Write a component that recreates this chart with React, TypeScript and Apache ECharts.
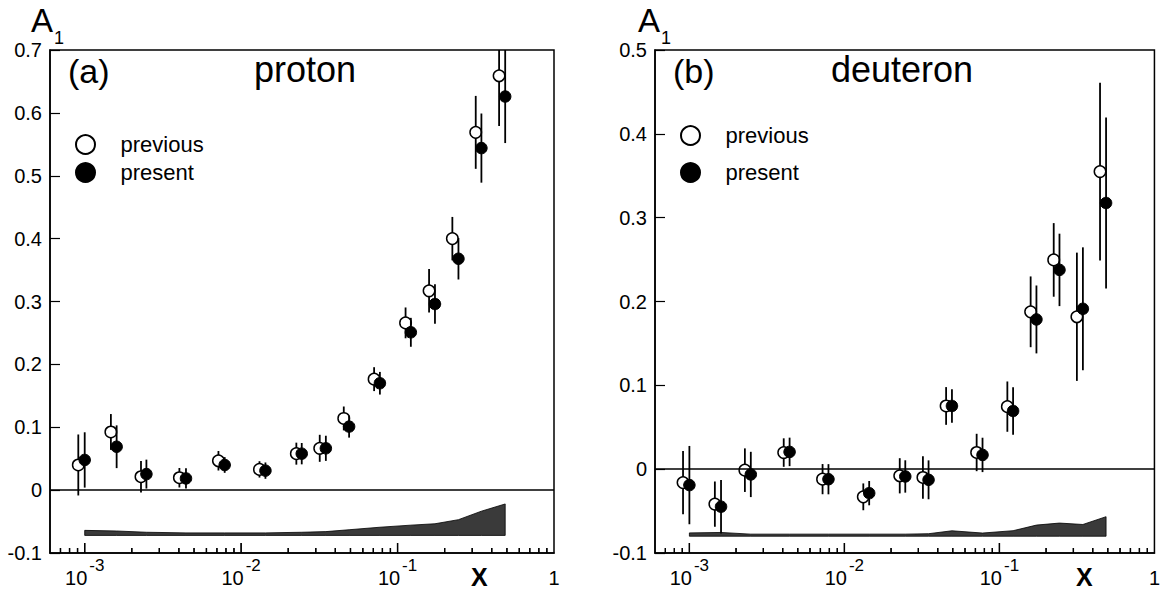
import React, { useEffect, useRef } from 'react';
import * as echarts from 'echarts';

const FONT = '"Liberation Sans", Arial, Helvetica, sans-serif';

// ---------- axis ranges / ticks ----------
const X_MIN = 0.0006;
const X_MAX = 1;
const MAJOR_TICKS = [0.001, 0.01, 0.1];
const MINOR_MANTISSAS = [2, 3, 4, 5, 6, 7, 8, 9];
const MINOR_DECADES = [0.0001, 0.001, 0.01, 0.1];

// ---------- (a) proton ----------
const protonPrevX = [0.00091, 0.00147, 0.00229, 0.00403, 0.00716, 0.0131, 0.02254, 0.0318, 0.0453, 0.0708, 0.1125, 0.159, 0.224, 0.316, 0.4457];
const protonPrevY = [0.040, 0.0925, 0.0213, 0.0197, 0.0467, 0.033, 0.058, 0.0665, 0.114, 0.1765, 0.266, 0.317, 0.400, 0.569, 0.659];
const protonPrevE = [0.0485, 0.0285, 0.025, 0.0155, 0.0155, 0.013, 0.0175, 0.0215, 0.019, 0.019, 0.0245, 0.0345, 0.0345, 0.058, 0.08];

const protonCurX = [0.001, 0.0016, 0.00248, 0.00444, 0.00785, 0.0143, 0.0244, 0.0348, 0.049, 0.0771, 0.1216, 0.1734, 0.245, 0.3435, 0.4875];
const protonCurY = [0.048, 0.069, 0.0255, 0.0186, 0.040, 0.031, 0.058, 0.0665, 0.101, 0.170, 0.251, 0.296, 0.368, 0.544, 0.626];
const protonCurE = [0.044, 0.034, 0.023, 0.016, 0.0125, 0.013, 0.017, 0.020, 0.0175, 0.018, 0.023, 0.0315, 0.033, 0.055, 0.074];

const protonSysLow = [-0.072, -0.072, -0.072, -0.072, -0.072, -0.072, -0.072, -0.072, -0.072, -0.072, -0.072, -0.072, -0.072, -0.072, -0.072];
const protonSysHigh = [-0.064, -0.065, -0.067, -0.068, -0.068, -0.068, -0.067, -0.066, -0.063, -0.059, -0.0557, -0.0535, -0.047, -0.0335, -0.022];

// ---------- (b) deuteron ----------
const deutPrevX = [0.00091, 0.00146, 0.00228, 0.00406, 0.00723, 0.01324, 0.02275, 0.0321, 0.0453, 0.0713, 0.1125, 0.159, 0.224, 0.316, 0.4457];
const deutPrevY = [-0.016, -0.0417, -0.0012, 0.0198, -0.0119, -0.033, -0.0079, -0.0099, 0.0754, 0.0199, 0.0746, 0.1877, 0.2496, 0.1818, 0.355];
const deutPrevE = [0.0377, 0.027, 0.026, 0.017, 0.018, 0.016, 0.021, 0.0254, 0.0225, 0.0223, 0.030, 0.0422, 0.0439, 0.0765, 0.106];

const deutCurX = [0.001, 0.0016, 0.00249, 0.00443, 0.00789, 0.01445, 0.0247, 0.0349, 0.0494, 0.0778, 0.1225, 0.1733, 0.244, 0.3455, 0.4875];
const deutCurY = [-0.019, -0.0448, -0.0063, 0.0206, -0.012, -0.0286, -0.0087, -0.0127, 0.0754, 0.017, 0.0694, 0.1786, 0.2377, 0.1913, 0.3175];
const deutCurE = [0.0467, 0.0318, 0.027, 0.017, 0.018, 0.0145, 0.0193, 0.0232, 0.020, 0.0205, 0.0282, 0.0405, 0.0432, 0.0733, 0.102];

const deutSysLow = [-0.080, -0.080, -0.080, -0.080, -0.080, -0.080, -0.080, -0.080, -0.080, -0.080, -0.080, -0.080, -0.080, -0.080, -0.080];
const deutSysHigh = [-0.076, -0.0755, -0.0775, -0.0775, -0.0775, -0.0775, -0.0775, -0.077, -0.0735, -0.0762, -0.0734, -0.0667, -0.0643, -0.066, -0.0567];

const LEGEND_NAMES = ['previous', 'present'];

const minorTicks: number[] = [];
MINOR_DECADES.forEach((d) => {
  MINOR_MANTISSAS.forEach((m) => {
    const v = m * d;
    if (v > X_MIN * 1.01 && v < X_MAX) minorTicks.push(v);
  });
});

interface Panel {
  left: number;
  yMax: number;
  prevX: number[]; prevY: number[]; prevE: number[];
  curX: number[]; curY: number[]; curE: number[];
  sysLow: number[]; sysHigh: number[];
  tag: string; name: string;
  tagLeft: number; nameLeft: number;
  aLeft: number; xLabelLeft: number;
  legendTop: number; legendGap: number;
}

const panels: Panel[] = [
  {
    left: 50, yMax: 0.7,
    prevX: protonPrevX, prevY: protonPrevY, prevE: protonPrevE,
    curX: protonCurX, curY: protonCurY, curE: protonCurE,
    sysLow: protonSysLow, sysHigh: protonSysHigh,
    tag: '(a)', name: 'proton', tagLeft: 68, nameLeft: 254,
    aLeft: 31, xLabelLeft: 471, legendTop: 133.5, legendGap: 8,
  },
  {
    left: 655, yMax: 0.5,
    prevX: deutPrevX, prevY: deutPrevY, prevE: deutPrevE,
    curX: deutCurX, curY: deutCurY, curE: deutCurE,
    sysLow: deutSysLow, sysHigh: deutSysHigh,
    tag: '(b)', name: 'deuteron', tagLeft: 673, nameLeft: 831,
    aLeft: 638, xLabelLeft: 1076, legendTop: 124.5, legendGap: 17,
  },
];

const GRID_TOP = 50;
const GRID_W = 504;
const GRID_H = 503;
const Y_MIN = -0.1;
const MAJOR_TICK_PX = 10;
const MINOR_TICK_PX = 5;

function buildOption(): any {
  const grid: any[] = [];
  const xAxis: any[] = [];
  const yAxis: any[] = [];
  const series: any[] = [];
  const legend: any[] = [];
  const title: any[] = [];

  panels.forEach((p, i) => {
    grid.push({
      left: p.left, top: GRID_TOP, width: GRID_W, height: GRID_H,
      show: true, borderColor: '#000', borderWidth: 1.5, backgroundColor: 'transparent',
    });
    xAxis.push({
      type: 'log', logBase: 10, gridIndex: i, min: X_MIN, max: X_MAX, position: 'bottom',
      axisLine: { show: true, onZero: false, lineStyle: { color: '#000', width: 1.5 } },
      axisTick: { show: false },
      splitLine: { show: false },
      axisLabel: {
        showMinLabel: false,
        margin: 4,
        color: '#000',
        fontFamily: FONT,
        formatter: (v: number) => {
          const e = Math.round(Math.log10(v));
          if (e === 0) return '{c|1}';
          return '{b|10}{s|' + e + '}';
        },
        rich: {
          b: { fontSize: 20, fontFamily: FONT, color: '#000', verticalAlign: 'bottom' },
          s: { fontSize: 17, fontFamily: FONT, color: '#000', verticalAlign: 'bottom', padding: [0, 0, 13.8, 2] },
          c: { fontSize: 20, fontFamily: FONT, color: '#000', padding: [10.8, 0, 0, 0] },
        },
      },
    });
    yAxis.push({
      type: 'value', gridIndex: i, min: Y_MIN, max: p.yMax, interval: 0.1,
      axisLine: { show: true, onZero: false, lineStyle: { color: '#000', width: 1.5 } },
      axisTick: { show: true, inside: true, length: 10, lineStyle: { color: '#000', width: 1.2 } },
      splitLine: { show: false },
      axisLabel: { fontSize: 20, color: '#000', fontFamily: FONT, margin: 8 },
    });

    // systematic band and zero line
    const bandData = p.curX.map((x, k) => [x, p.sysLow[k], p.sysHigh[k]]);
    series.push({
      type: 'custom', xAxisIndex: i, yAxisIndex: i, z: 2, silent: true, clip: false,
      data: bandData,
      encode: { x: 0, y: [1, 2] },
      renderItem: (params: any, api: any) => {
        if (params.dataIndex !== 0) return null;
        const pts: number[][] = [];
        for (let k = 0; k < bandData.length; k++) pts.push(api.coord([bandData[k][0], bandData[k][2]]));
        for (let k = bandData.length - 1; k >= 0; k--) pts.push(api.coord([bandData[k][0], bandData[k][1]]));
        return { type: 'polygon', shape: { points: pts }, style: { fill: '#3a3a3a', stroke: '#000', lineWidth: 0.8 } };
      },
      markLine: {
        silent: true, symbol: ['none', 'none'], animation: false,
        label: { show: false },
        emphasis: { disabled: true },
        lineStyle: { color: '#000', width: 1.5, type: 'solid' },
        data: [{ yAxis: 0 }],
      },
    });

    // x-axis ticks as thin filled rects, x from the log axis scale
    const tickData = MAJOR_TICKS.map((v) => [v, Y_MIN, MAJOR_TICK_PX]).concat(minorTicks.map((v) => [v, Y_MIN, MINOR_TICK_PX]));
    series.push({
      type: 'custom', xAxisIndex: i, yAxisIndex: i, z: 9, silent: true, clip: false,
      data: tickData,
      encode: { x: 0, y: 1 },
      renderItem: (params: any, api: any) => {
        const c = api.coord([api.value(0), api.value(1)]);
        const len = api.value(2);
        return {
          type: 'rect',
          shape: { x: c[0] - 0.65, y: c[1] - len, width: 1.3, height: len },
          style: { fill: '#000' },
        };
      },
    });

    const errSeries = (xs: number[], ys: number[], es: number[], z: number) => ({
      type: 'custom', xAxisIndex: i, yAxisIndex: i, z, silent: true, clip: true,
      data: xs.map((x, k) => [x, ys[k] - es[k], ys[k] + es[k]]),
      encode: { x: 0, y: [1, 2] },
      renderItem: (params: any, api: any) => {
        const a = api.coord([api.value(0), api.value(1)]);
        const b = api.coord([api.value(0), api.value(2)]);
        return { type: 'line', shape: { x1: a[0], y1: a[1], x2: b[0], y2: b[1] }, style: { stroke: '#000', lineWidth: 1.8 } };
      },
    });

    series.push(errSeries(p.prevX, p.prevY, p.prevE, 3));
    series.push({
      type: 'scatter', name: 'previous', xAxisIndex: i, yAxisIndex: i, z: 4,
      symbol: 'circle', symbolSize: 11.5,
      itemStyle: { color: '#fff', borderColor: '#000', borderWidth: 1.5, opacity: 1 },
      data: p.prevX.map((x, k) => [x, p.prevY[k]]),
    });
    series.push(errSeries(p.curX, p.curY, p.curE, 5));
    series.push({
      type: 'scatter', name: 'present', xAxisIndex: i, yAxisIndex: i, z: 6,
      symbol: 'circle', symbolSize: 11.5,
      itemStyle: { color: '#000', borderColor: '#000', borderWidth: 1, opacity: 1 },
      data: p.curX.map((x, k) => [x, p.curY[k]]),
    });

    legend.push({
      data: LEGEND_NAMES, orient: 'vertical', left: p.left + 25, top: p.legendTop,
      itemWidth: 60, itemHeight: 19, itemGap: p.legendGap - 2, padding: 0,
      selectedMode: false,
      textStyle: { fontSize: 22, fontFamily: FONT, color: '#000' },
    });

    title.push({
      text: p.tag, left: p.tagLeft, top: 54, padding: 0,
      textStyle: { fontSize: 34, fontWeight: 'normal', fontFamily: FONT, color: '#000' },
    });
    title.push({
      text: p.name, left: p.nameLeft, top: 51, padding: 0,
      textStyle: { fontSize: 36, fontWeight: 'normal', fontFamily: FONT, color: '#000' },
    });
    title.push({
      text: '{a|A}{s|1}', left: p.aLeft, top: 4, padding: 0,
      textStyle: {
        fontWeight: 'normal',
        rich: {
          a: { fontSize: 33, fontWeight: 'normal', fontFamily: FONT, color: '#000', verticalAlign: 'top' },
          s: { fontSize: 18, fontWeight: 'normal', fontFamily: FONT, color: '#000', verticalAlign: 'top', padding: [25, 0, 0, 1] },
        },
      },
    });
    title.push({
      text: 'X', left: p.xLabelLeft, top: 564, padding: 0,
      textStyle: { fontSize: 25, fontWeight: 'bold', fontFamily: FONT, color: '#000' },
    });
  });

  return {
    animation: false,
    backgroundColor: '#fff',
    textStyle: { fontFamily: FONT },
    title, legend, grid, xAxis, yAxis, series,
  };
}

// same ticks again as top-level rects placed through the chart's axis (convertToPixel)
function buildTickGraphics(chart: any): any[] {
  const els: any[] = [];
  panels.forEach((p, i) => {
    const add = (v: number, len: number) => {
      const pt = chart.convertToPixel({ gridIndex: i }, [v, Y_MIN]);
      if (!pt || isNaN(pt[0]) || isNaN(pt[1])) return;
      els.push({
        type: 'rect', z: 100, silent: true,
        shape: { x: pt[0] - 0.65, y: pt[1] - len, width: 1.3, height: len },
        style: { fill: '#000' },
      });
    };
    MAJOR_TICKS.forEach((v) => add(v, MAJOR_TICK_PX));
    minorTicks.forEach((v) => add(v, MINOR_TICK_PX));
  });
  return els;
}

export default function App() {
  const ref = useRef<HTMLDivElement>(null);
  useEffect(() => {
    if (!ref.current) return;
    const chart = echarts.init(ref.current, null, { renderer: 'svg' });
    chart.setOption(buildOption());
    try {
      chart.setOption({ graphic: buildTickGraphics(chart) });
    } catch (e) {
      // ignore
    }
    return () => chart.dispose();
  }, []);
  return (
    <div
      ref={ref}
      style={{ position: 'fixed', left: 0, top: 0, width: 1163, height: 590, background: '#fff' }}
    />
  );
}
